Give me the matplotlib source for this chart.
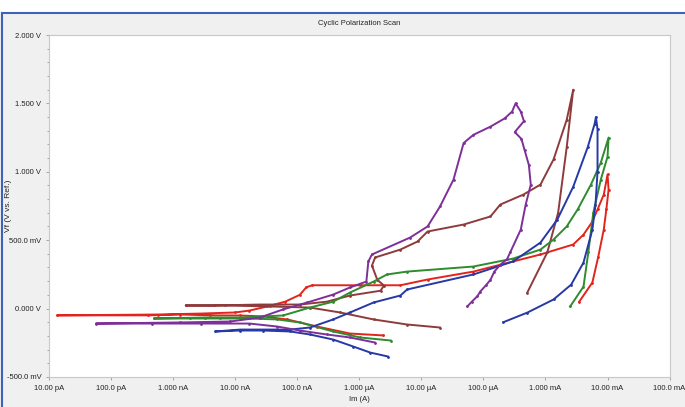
import numpy as np
import matplotlib as mpl
mpl.use('Agg')
import matplotlib.pyplot as plt
from matplotlib.lines import Line2D

plt.rcParams['font.family'] = ['Liberation Sans Narrow', 'Liberation Sans', 'DejaVu Sans']

# tick labels
y_ticks = [-0.5, 0.0, 0.5, 1.0, 1.5, 2.0]
y_labels = ["-500.0 mV", "0.000 V", "500.0 mV", "1.000 V", "1.500 V", "2.000 V"]
x_ticks = [1e-11, 1e-10, 1e-9, 1e-8, 1e-7, 1e-6, 1e-5, 1e-4, 1e-3, 1e-2, 1e-1]
x_labels = ["10.00 pA", "100.0 pA", "1.000 nA", "10.00 nA", "100.0 nA", "1.000 \u00b5A",
            "10.00 \u00b5A", "100.0 \u00b5A", "1.000 mA", "10.00 mA", "100.0 mA"]

# current (A) and potential (V), one list pair per run
red_i = [2.45e-6, 7.1e-7, 2.1e-7, 6.9e-8, 2.8e-8, 1.2e-8, 4e-9, 1.3e-9, 4e-10, 1.35e-11, 5.7e-10,
         2.8e-9, 1e-8, 1.7e-8, 3.3e-8, 6.4e-8, 1.1e-7, 1.4e-7, 1.75e-7, 1.04e-6, 4.6e-6, 1.26e-5,
         6.9e-5, 1.87e-4, 8.3e-4, 2.8e-3, 4.1e-3, 5.6e-3, 6.9e-3, 8.7e-3, 1.0e-2,
         1.04e-2, 9.6e-3, 8.7e-3, 7.1e-3, 5.7e-3, 3.5e-3]
red_v = [-0.197, -0.183, -0.132, -0.080, -0.058, -0.051, -0.050, -0.044, -0.050, -0.050, -0.044,
         -0.037, -0.029, -0.015, 0.015, 0.05, 0.10, 0.155, 0.17, 0.17, 0.17, 0.212,
         0.27, 0.32, 0.395, 0.468, 0.54, 0.63, 0.724, 0.833, 0.98,
         0.87, 0.73, 0.577, 0.38, 0.19, 0.05]

brown_i = [2.0e-5, 5.9e-6, 1.7e-6, 4.9e-7, 1.6e-7, 3.6e-8, 6.9e-9, 1.6e-9, 4.5e-9, 2.5e-8, 1.1e-7,
           3.0e-7, 7.1e-7, 2.2e-6, 2.5e-6, 1.95e-6, 1.6e-6, 1.8e-6, 4.6e-6, 8.7e-6, 1.26e-5,
           4.8e-5, 1.3e-4, 1.87e-4, 4.4e-4, 8.3e-4, 1.35e-3, 2.2e-3, 2.8e-3,
           2.2e-3, 1.6e-3, 1.07e-3, 5.1e-4]
brown_v = [-0.139, -0.117, -0.080, -0.029, 0.007, 0.015, 0.022, 0.022, 0.022, 0.029, 0.029,
           0.05, 0.095, 0.13, 0.168, 0.21, 0.314, 0.373, 0.431, 0.49, 0.563,
           0.614, 0.673, 0.76, 0.833, 0.906, 1.09, 1.38, 1.60,
           1.18, 0.70, 0.41, 0.117]

green_i = [3.2e-6, 1.04e-6, 3.8e-7, 1.1e-7, 4.8e-8, 1.7e-8, 5.7e-9, 1.9e-9, 4.9e-10, 3.3e-9, 1.2e-8,
           5.9e-8, 1.6e-7, 3.8e-7, 7.1e-7, 1.7e-6, 2.8e-6, 5.9e-6, 6.9e-5, 3.0e-4, 8.3e-4,
           1.35e-3, 2.2e-3, 3.3e-3, 5.4e-3, 7.8e-3, 1.04e-2,
           1.0e-2, 7.8e-3, 5.9e-3, 4.9e-3, 4.1e-3, 2.5e-3]
green_v = [-0.234, -0.212, -0.168, -0.102, -0.080, -0.073, -0.073, -0.073, -0.073, -0.066, -0.066,
           -0.051, 0.007, 0.05, 0.117, 0.197, 0.249, 0.27, 0.307, 0.365, 0.431,
           0.504, 0.60, 0.724, 0.906, 1.067, 1.25,
           1.11, 0.943, 0.70, 0.41, 0.16, 0.015]

blue_i = [2.9e-6, 1.5e-6, 8e-7, 3.8e-7, 1.6e-7, 7.7e-8, 2.8e-8, 1.2e-8, 4.8e-9, 1.2e-8, 7.7e-8,
          1.6e-7, 3.8e-7, 7.1e-7, 1.7e-6, 4.6e-6, 5.9e-6, 6.9e-5, 3.0e-4, 8.3e-4, 1.55e-3,
          2.8e-3, 4.8e-3, 6.2e-3, 6.5e-3,
          6.9e-3, 6.9e-3, 6.4e-3, 5.7e-3, 4.1e-3, 2.6e-3, 1.35e-3, 5.1e-4, 2.1e-4]
blue_v = [-0.351, -0.322, -0.278, -0.227, -0.19, -0.168, -0.161, -0.161, -0.168, -0.154, -0.154,
          -0.139, -0.080, -0.029, 0.044, 0.095, 0.139, 0.249, 0.344, 0.482, 0.65,
          0.89, 1.18, 1.35, 1.40,
          1.31, 1.00, 0.76, 0.577, 0.336, 0.175, 0.066, -0.03, -0.10]

purple_i = [1.8e-6, 7.1e-7, 3.0e-7, 1.1e-7, 4.8e-8, 1.7e-8, 2.8e-9, 4.6e-10, 5.7e-11, 1.3e-9, 8.3e-9,
            2.5e-8, 5.9e-8, 1.45e-7, 3.8e-7, 7.1e-7, 1.3e-6, 1.4e-6, 1.6e-6, 6.6e-6, 1.26e-5,
            2.0e-5, 3.3e-5, 4.8e-5, 6.9e-5, 1.3e-4, 2.2e-4, 2.9e-4, 3.3e-4, 4.0e-4, 4.5e-4,
            3.2e-4, 4.1e-4, 4.6e-4, 5.4e-4, 5.8e-4, 4.8e-4, 4.0e-4, 2.7e-4, 2.4e-4, 1.87e-4,
            1.5e-4, 1.3e-4, 1.1e-4, 8.9e-5, 8.0e-5, 6.5e-5, 5.5e-5]
purple_v = [-0.249, -0.212, -0.19, -0.161, -0.132, -0.11, -0.11, -0.11, -0.11, -0.102, -0.095,
            -0.066, -0.007, 0.044, 0.102, 0.154, 0.197, 0.344, 0.395, 0.519, 0.60,
            0.746, 0.943, 1.21, 1.27, 1.33, 1.39, 1.44, 1.50, 1.44, 1.37,
            1.29, 1.24, 1.16, 1.05, 0.906, 0.76, 0.577, 0.41, 0.36, 0.32,
            0.27, 0.21, 0.17, 0.124, 0.09, 0.05, 0.015]

runs = [
    (red_i, red_v, "#e3241d"),
    (brown_i, brown_v, "#8e3b3b"),
    (green_i, green_v, "#2e8b2e"),
    (blue_i, blue_v, "#2639a6"),
    (purple_i, purple_v, "#7e2f99"),
]

fig = plt.figure(figsize=(6.85, 4.07), dpi=100, facecolor="#f0f0f0")
ax = fig.add_axes([0.0715, 0.074, 0.906, 0.840])
ax.set_facecolor("white")

for cur, pot, col in runs:
    ax.plot(cur, pot, color=col, lw=1.4, marker='.', ms=2)

ax.set_xscale('log')
ax.set_xlim(1e-11, 1e-1)
ax.set_ylim(-0.5, 2.0)
ax.set_xticks(x_ticks)
ax.set_xticklabels(x_labels)
ax.set_yticks(y_ticks)
ax.set_yticklabels(y_labels)
ax.set_yticks(np.arange(-0.5, 2.0, 0.1), minor=True)
ax.xaxis.set_minor_formatter(mpl.ticker.NullFormatter())
ax.tick_params(which='both', direction='out', colors='#999999', labelcolor='#222222',
               labelsize=5.5, length=2.5, width=0.6, pad=3)
ax.tick_params(which='minor', length=1.8)
for s in ax.spines.values():
    s.set_color('#c8c8c8')
    s.set_linewidth(0.8)

ax.set_title("Cyclic Polarization Scan", fontsize=5.5, pad=7, color='#222222')
ax.set_xlabel("Im (A)", fontsize=5.5, color='#222222', va='center')
ax.xaxis.set_label_coords(0.5, -0.065)
ax.set_ylabel("Vf (V vs. Ref.)", fontsize=6, color='#222222', va='center')
ax.yaxis.set_label_coords(-0.066, 0.5)

# window frame
fig.add_artist(Line2D([0.003, 1.0], [0.968, 0.968], color='#3d63b8', lw=1.5))
fig.add_artist(Line2D([0.003, 0.003], [0.0, 0.968], color='#3d63b8', lw=1.5))
fig.patches.append(mpl.patches.Rectangle((0, 0.969), 1, 0.031, transform=fig.transFigure,
                                         color='white', zorder=-1))

plt.savefig("out.png", dpi=100, facecolor=fig.get_facecolor())
